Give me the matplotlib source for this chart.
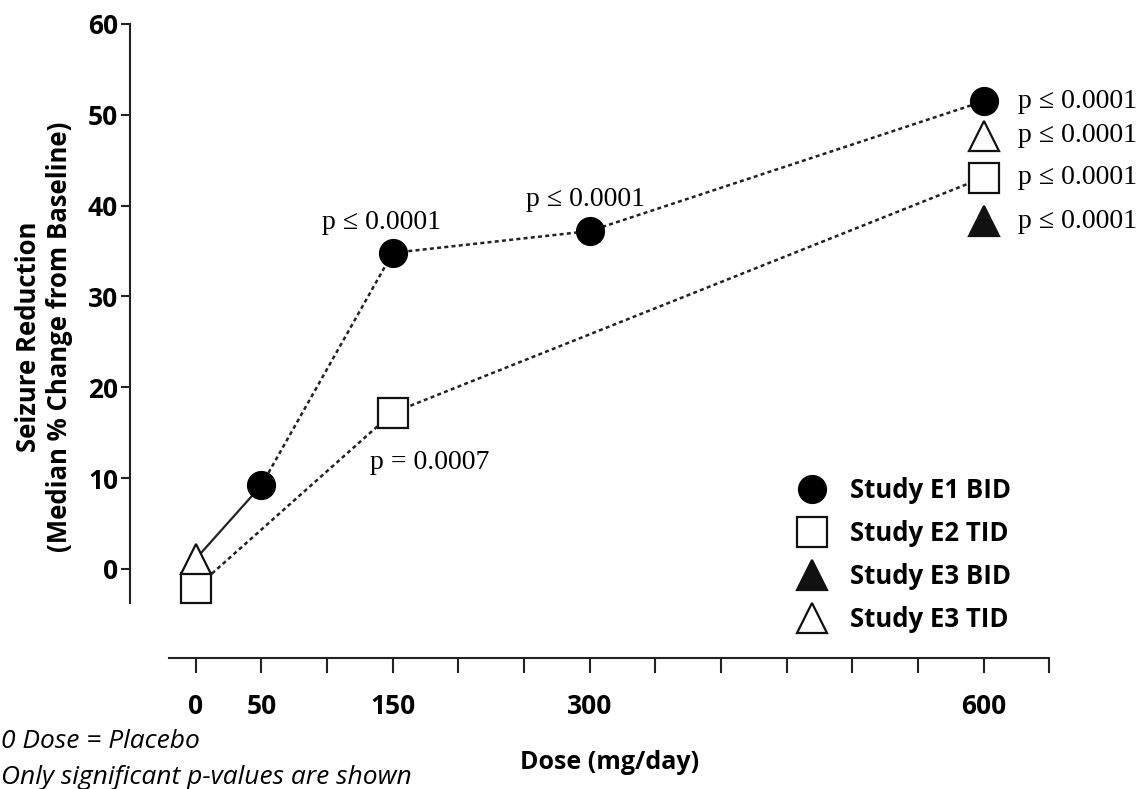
import matplotlib
matplotlib.use("Agg")
import matplotlib.pyplot as plt
from matplotlib.lines import Line2D

plt.rcParams['font.family'] = ['Open Sans', 'DejaVu Sans']

# data
dose_e1 = [50, 150, 300, 600]
red_e1 = [9.2, 34.8, 37.2, 51.5]
dose_e2 = [0, 150, 600]
red_e2 = [-2.1, 17.2, 43.1]
dose_e3_bid = [600]
red_e3_bid = [38.3]
dose_e3_tid = [0, 600]
red_e3_tid = [1.1, 47.7]

x_ticks = list(range(0, 651, 50))
x_labels = {0: '0', 50: '50', 150: '150', 300: '300', 600: '600'}
y_ticks = [0, 10, 20, 30, 40, 50, 60]

p_mid = ['p \u2264 0.0001', 'p \u2264 0.0001', 'p = 0.0007']
p_right = ['p \u2264 0.0001'] * 4

W, H = 1141, 789
fig = plt.figure(figsize=(W / 100, H / 100), dpi=100)
ax = fig.add_axes([130 / W, 1 - 658 / H, 985 / W, (658 - 24) / H])
ax.set_xlim(-50, 700)
ax.set_ylim(-9.8, 60)

dots = dict(color='#222222', lw=1.8, ls=(0, (1.6, 1.3)))
ms = 20
mew = 1.6

# lines first, markers on top
ax.plot([dose_e3_tid[0], dose_e1[0]], [red_e3_tid[0], red_e1[0]], color='#222222', lw=1.6, zorder=2)
ax.plot(dose_e1, red_e1, **dots, zorder=2)
ax.plot(dose_e2, red_e2, **dots, zorder=2)

ax.plot(dose_e2, red_e2, ls='none', marker='s', ms=ms + 2, mfc='white', mec='#111111', mew=mew, zorder=3)
ax.plot(dose_e3_tid, red_e3_tid, ls='none', marker='^', ms=ms + 1, mfc='white', mec='#111111', mew=mew, zorder=4)
ax.plot(dose_e3_bid, red_e3_bid, ls='none', marker='^', ms=ms + 1, mfc='#111111', mec='#111111', mew=mew, zorder=4)
ax.plot(dose_e1, red_e1, ls='none', marker='o', ms=ms, mfc='black', mec='black', zorder=5)

serif = dict(family=['Liberation Serif', 'DejaVu Serif'], fontsize=20)
ax.annotate(p_mid[0], (dose_e1[1], red_e1[1]), xytext=(-8, 22), textcoords='offset points',
            ha='center', va='center', **serif)
ax.annotate(p_mid[1], (dose_e1[2], red_e1[2]), xytext=(-3, 23), textcoords='offset points',
            ha='center', va='center', **serif)
ax.annotate(p_mid[2], (dose_e2[1], red_e2[1]), xytext=(27, -36), textcoords='offset points',
            ha='center', va='center', **serif)
right_y = [red_e1[-1], red_e3_tid[-1], red_e2[-1], red_e3_bid[-1]]
for lab, yv in zip(p_right, right_y):
    ax.annotate(lab, (600, yv), xytext=(24.5, 0), textcoords='offset points',
                ha='left', va='center', **serif)

# axes styling
for s in ['top', 'right']:
    ax.spines[s].set_visible(False)
ax.spines['left'].set_bounds(-3.7, 60)
ax.spines['bottom'].set_bounds(-20, 650)
for s in ['left', 'bottom']:
    ax.spines[s].set_linewidth(1.5)
    ax.spines[s].set_color('#222222')

ax.set_xticks(x_ticks)
ax.set_xticklabels([x_labels.get(t, '') for t in x_ticks], fontsize=19, fontweight='bold')
ax.set_yticks(y_ticks)
ax.set_yticklabels([str(t) for t in y_ticks], fontsize=19, fontweight='bold')
ax.tick_params(axis='x', length=11, width=1.5, color='#222222', pad=14)
ax.tick_params(axis='y', length=6.5, width=1.5, color='#222222', pad=2)

ax.set_xlabel('Dose (mg/day)', fontsize=18, fontweight='bold')
ax.xaxis.set_label_coords((610 - 130) / 985, (658 - 750) / 634)

fig.text(44 / W, 1 - 337 / H, 'Seizure Reduction\n(Median % Change from Baseline)', rotation=90,
         ha='center', va='center', fontsize=18.5, fontweight='bold', linespacing=1.2, multialignment='center')

fig.text(1 / W, 1 - 742 / H, '0 Dose = Placebo', fontsize=19, fontstyle='italic', va='center')
fig.text(1 / W, 1 - 777 / H, 'Only significant p-values are shown', fontsize=19, fontstyle='italic', va='center')

handles = [
    Line2D([], [], ls='none', marker='o', ms=ms, mfc='black', mec='black'),
    Line2D([], [], ls='none', marker='s', ms=ms + 2, mfc='white', mec='#111111', mew=mew),
    Line2D([], [], ls='none', marker='^', ms=ms + 1, mfc='#111111', mec='#111111', mew=mew),
    Line2D([], [], ls='none', marker='^', ms=ms + 1, mfc='white', mec='#111111', mew=mew),
]
labels = ['Study E1 BID', 'Study E2 TID', 'Study E3 BID', 'Study E3 TID']
ax.legend(handles, labels, loc='upper left', bbox_to_anchor=(786 / W, 1 - 464 / H),
          bbox_transform=fig.transFigure, frameon=False, borderpad=0,
          handlelength=1.0, handletextpad=1.0, labelspacing=0.62,
          prop=dict(family='Open Sans', weight='bold', size=18.5))

fig.savefig('out.png', dpi=100)
